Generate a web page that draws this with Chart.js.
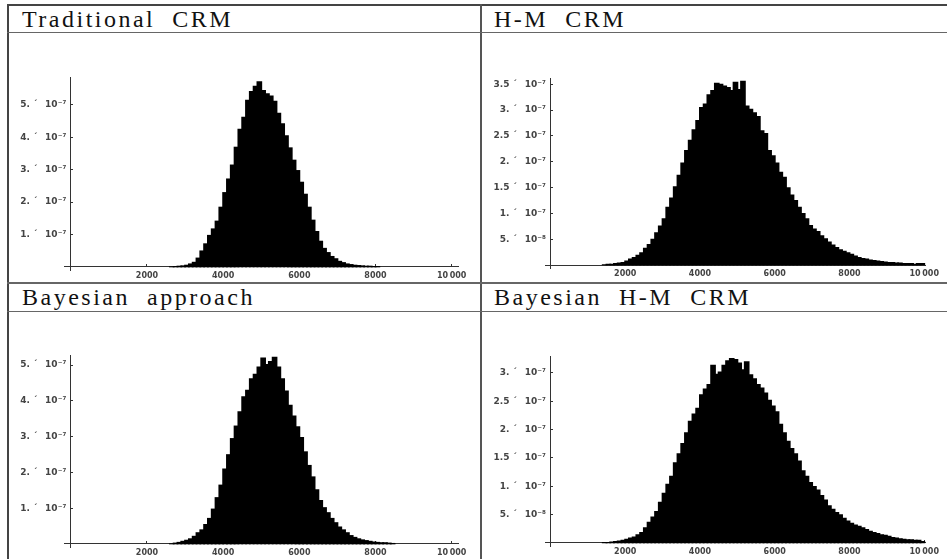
<!DOCTYPE html>
<html lang="en">
<head>
<meta charset="UTF-8">
<title>CRM histograms</title>
<script src="https://cdn.jsdelivr.net/npm/chart.js"></script>
<style>
  body { margin: 0; background: #fff; }
  #page { position: relative; width: 947px; height: 559px; overflow: hidden; background: #fff; }
  .line { position: absolute; background: #555; }
  .title { position: absolute; font-family: "Liberation Serif", serif; font-size: 24px; line-height: 24px;
           color: #111; white-space: pre; letter-spacing: 2.5px; }
  canvas { position: absolute; }
</style>
</head>
<body>
<div id="page">
  <div class="line" style="left:7px; top:4px; width:940px; height:2px; background:#444;"></div>
  <div class="line" style="left:7px; top:4px; width:2px; height:555px; background:#444;"></div>
  <div class="line" style="left:480px; top:4px; width:2px; height:555px;"></div>
  <div class="line" style="left:7px; top:32px; width:940px; height:1px; background:#666;"></div>
  <div class="line" style="left:7px; top:282px; width:940px; height:2px; background:#666;"></div>
  <div class="line" style="left:7px; top:311px; width:940px; height:1px; background:#666;"></div>

  <div class="title" style="left:22px; top:7px;">Traditional  CRM</div>
  <div class="title" style="left:494px; top:7px;">H-M  CRM</div>
  <div class="title" style="left:22px; top:285px;">Bayesian  approach</div>
  <div class="title" style="left:494px; top:285px;">Bayesian  H-M  CRM</div>

  <canvas id="trad" width="469" height="248" style="left:10px; top:34px;"></canvas>
  <canvas id="hm" width="464" height="248" style="left:482px; top:34px;"></canvas>
  <canvas id="bayes" width="469" height="247" style="left:10px; top:312px;"></canvas>
  <canvas id="bhm" width="464" height="247" style="left:482px; top:312px;"></canvas>
</div>

<script>
// histogram bins are 100 wide, heights in units of 10^-7
const binWidth = 100;
const xTicks = [2000, 4000, 6000, 8000, 10000];

const tradStart = 2600;
const tradValues = [0.01, 0.02, 0.03, 0.04, 0.06, 0.10, 0.15, 0.28, 0.50, 0.72,
  0.98, 1.18, 1.42, 1.85, 2.30, 2.72, 3.15, 3.70, 4.25, 4.62,
  5.15, 5.42, 5.58, 5.72, 5.45, 5.35, 5.28, 5.12, 4.75, 4.42,
  4.05, 3.68, 3.30, 2.98, 2.62, 2.25, 1.85, 1.45, 1.10, 0.80,
  0.58, 0.45, 0.33, 0.26, 0.18, 0.14, 0.10, 0.08, 0.06, 0.05,
  0.04, 0.03, 0.03, 0.02, 0.02];

const hmStart = 1400;
const hmValues = [0.01, 0.02, 0.02, 0.03, 0.04, 0.05, 0.08, 0.12, 0.15, 0.19,
  0.24, 0.33, 0.40, 0.50, 0.63, 0.76, 0.90, 1.12, 1.30, 1.52,
  1.74, 1.98, 2.22, 2.42, 2.62, 2.80, 3.05, 3.12, 3.30, 3.38,
  3.52, 3.50, 3.47, 3.44, 3.38, 3.54, 3.40, 3.56, 3.08, 3.02,
  2.95, 2.88, 2.60, 2.55, 2.22, 2.12, 1.98, 1.80, 1.70, 1.50,
  1.36, 1.25, 1.12, 1.00, 0.90, 0.77, 0.70, 0.65, 0.57, 0.51,
  0.45, 0.39, 0.34, 0.30, 0.27, 0.24, 0.21, 0.18, 0.15, 0.13,
  0.12, 0.10, 0.09, 0.08, 0.07, 0.06, 0.05, 0.05, 0.04, 0.04,
  0.03, 0.03, 0.03, 0.02, 0.03, 0.03];

const bayesStart = 2600;
const bayesValues = [0.01, 0.03, 0.05, 0.08, 0.11, 0.15, 0.22, 0.32, 0.40, 0.55,
  0.72, 0.98, 1.30, 1.65, 2.10, 2.50, 2.95, 3.30, 3.70, 4.12,
  4.30, 4.62, 4.75, 4.95, 5.20, 5.02, 5.10, 5.22, 4.95, 4.62,
  4.28, 3.88, 3.58, 3.28, 2.98, 2.58, 2.20, 1.88, 1.52, 1.22,
  1.02, 0.88, 0.72, 0.60, 0.48, 0.40, 0.32, 0.24, 0.19, 0.15,
  0.12, 0.10, 0.08, 0.06, 0.05, 0.04, 0.04, 0.03, 0.02];

const bhmStart = 1400;
const bhmValues = [0.01, 0.01, 0.02, 0.03, 0.04, 0.05, 0.07, 0.09, 0.11, 0.15,
  0.19, 0.27, 0.37, 0.46, 0.56, 0.72, 0.88, 1.04, 1.18, 1.42,
  1.58, 1.76, 1.95, 2.15, 2.28, 2.38, 2.62, 2.72, 2.80, 3.14,
  2.98, 3.02, 3.14, 3.22, 3.26, 3.24, 3.18, 3.06, 3.20, 2.97,
  2.90, 2.80, 2.74, 2.65, 2.52, 2.42, 2.32, 2.10, 1.95, 1.80,
  1.67, 1.58, 1.45, 1.28, 1.18, 1.07, 1.00, 0.94, 0.84, 0.76,
  0.66, 0.60, 0.54, 0.50, 0.44, 0.39, 0.35, 0.32, 0.30, 0.27,
  0.24, 0.21, 0.19, 0.17, 0.15, 0.14, 0.12, 0.10, 0.09, 0.08,
  0.07, 0.06, 0.06, 0.05, 0.05, 0.03];

const yTicksTrad = [1, 2, 3, 4, 5];
const yTicksHm = [0.5, 1, 1.5, 2, 2.5, 3, 3.5];
const yTicksBayes = [1, 2, 3, 4, 5];
const yTicksBhm = [0.5, 1, 1.5, 2, 2.5, 3];

const xFont = { family: 'DejaVu Sans', size: 8, weight: 'bold' };
const yFont = { family: 'DejaVu Sans', size: 9, weight: 'bold' };

function yLabel(v) {
  let head, exp = '\u207b\u2077';
  if (v < 1) { head = (v * 10) + '.'; exp = '\u207b\u2078'; }
  else if (Number.isInteger(v)) head = v + '.';
  else head = String(v);
  return head + ' \u00b4\u2002 10' + exp + '\u2002';
}

function xLabel(v) {
  return v === 10000 ? '10\u2009000' : String(v);
}

function makeChart(id, start, values, yTicks, xMin, xMax, yMin, yMax, pad) {
  const points = values.map((v, i) => ({ x: start + binWidth * i + binWidth / 2, y: v }));
  return new Chart(document.getElementById(id), {
    type: 'bar',
    data: {
      datasets: [{
        data: points,
        backgroundColor: '#000',
        borderWidth: 0,
        barThickness: 5
      }]
    },
    options: {
      responsive: false,
      animation: false,
      layout: { padding: pad, autoPadding: false },
      plugins: { legend: { display: false }, tooltip: { enabled: false } },
      scales: {
        x: {
          type: 'linear',
          min: xMin,
          max: xMax,
          offset: false,
          position: { y: 0 },
          afterFit: s => { s.height = 0; },
          afterBuildTicks: s => { s.ticks = xTicks.map(v => ({ value: v })); },
          grid: { drawOnChartArea: false, offset: false, tickLength: -3, color: '#333' },
          border: { color: '#333', width: 1 },
          ticks: { padding: 7, maxRotation: 0, autoSkip: false, font: xFont, color: '#444', callback: v => xLabel(v) }
        },
        y: {
          type: 'linear',
          min: yMin,
          max: yMax,
          position: { x: 0 },
          afterFit: s => { s.width = 0; },
          afterBuildTicks: s => { s.ticks = yTicks.map(v => ({ value: v })); },
          grid: { drawOnChartArea: false, tickLength: -3, color: '#333' },
          border: { color: '#333', width: 1 },
          ticks: { autoSkip: false, font: yFont, color: '#444', callback: v => yLabel(v) }
        }
      }
    }
  });
}

makeChart('trad', tradStart, tradValues, yTicksTrad, -179, 10166, -0.093, 5.86,
  { left: 54, right: 21, top: 43, bottom: 12 });
makeChart('hm', hmStart, hmValues, yTicksHm, -146, 10040, -0.058, 3.62,
  { left: 63, right: 13, top: 44, bottom: 14 });
makeChart('bayes', bayesStart, bayesValues, yTicksBayes, -179, 10166, -0.084, 5.28,
  { left: 54, right: 21, top: 43, bottom: 12 });
makeChart('bhm', bhmStart, bhmValues, yTicksBhm, -146, 10040, -0.053, 3.30,
  { left: 63, right: 13, top: 44, bottom: 13 });
</script>
</body>
</html>
